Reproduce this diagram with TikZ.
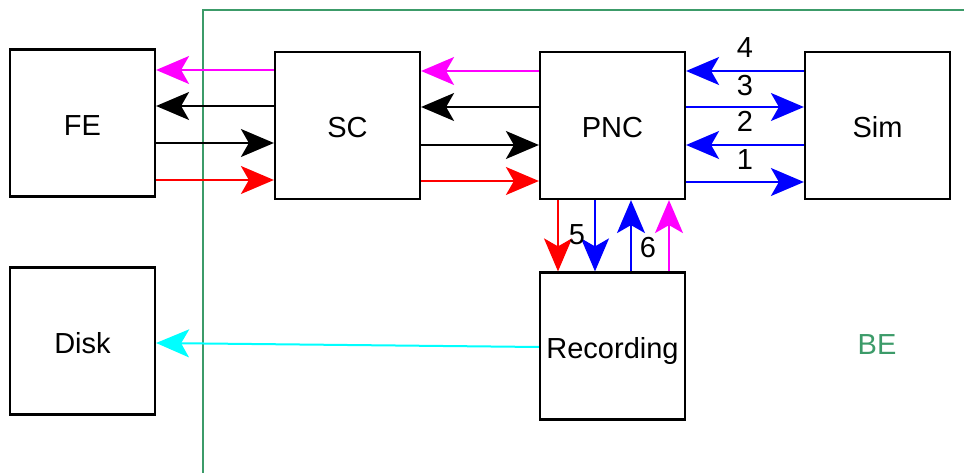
\documentclass[tikz,border=0pt]{standalone}
\usepackage{fontspec}
\setmainfont{Liberation Sans}
\usetikzlibrary{arrows.meta}
\definecolor{begreen}{RGB}{60,155,105}
\definecolor{mag}{RGB}{255,0,255}
\definecolor{cyn}{RGB}{0,255,255}
\tikzset{
  blk/.style={draw=black, line width=2.2pt, fill=white, minimum width=145pt, minimum height=147pt, inner sep=0pt, text height=25pt, text depth=0pt, font=\fontsize{29}{33}\selectfont},
  conn/.style={line width=2pt, -{Stealth[length=33pt, width=28pt, inset=8pt]}},
  lbl/.style={font=\fontsize{29}{33}\selectfont, inner sep=0pt}
}
\begin{document}
\begin{tikzpicture}[x=1pt,y=-1pt]
\useasboundingbox (0,0) rectangle (964,473);
\draw[begreen, line width=2.2pt] (203,473) -- (203,10) -- (966,10);
\node[blk] (FE) at (82.5,123) {FE};
\node[blk] (Disk) at (82.5,341) {Disk};
\node[blk] (SC) at (347.5,125.5) {SC};
\node[blk] (PNC) at (612.5,125.5) {PNC};
\node[blk] (Sim) at (877.5,125.5) {Sim};
\node[blk] (Rec) at (612.5,346) {Recording};
\node[lbl, text=begreen] (BE) at (877,345) {BE};
% SC <-> FE
\draw[conn, mag] (SC.west |- 0,70) -- (FE.east |- 0,70);
\draw[conn, black] (SC.west |- 0,106) -- (FE.east |- 0,106);
\draw[conn, black] (FE.east |- 0,143) -- (SC.west |- 0,143);
\draw[conn, red] (FE.east |- 0,180) -- (SC.west |- 0,180);
% PNC <-> SC
\draw[conn, mag] (PNC.west |- 0,71) -- (SC.east |- 0,71);
\draw[conn, black] (PNC.west |- 0,107) -- (SC.east |- 0,107);
\draw[conn, black] (SC.east |- 0,145) -- (PNC.west |- 0,145);
\draw[conn, red] (SC.east |- 0,181) -- (PNC.west |- 0,181);
% PNC <-> Sim
\draw[conn, blue] (Sim.west |- 0,71) -- (PNC.east |- 0,71);
\draw[conn, blue] (PNC.east |- 0,107) -- (Sim.west |- 0,107);
\draw[conn, blue] (Sim.west |- 0,145) -- (PNC.east |- 0,145);
\draw[conn, blue] (PNC.east |- 0,182) -- (Sim.west |- 0,182);
\node[lbl] (n4) at (745,48) {4};
\node[lbl] (n3) at (745,86) {3};
\node[lbl] (n2) at (745,121) {2};
\node[lbl] (n1) at (745,160) {1};
% PNC <-> Recording
\draw[conn, red] (PNC.south -| 558,0) -- (Rec.north -| 558,0);
\draw[conn, blue] (PNC.south -| 595,0) -- (Rec.north -| 595,0);
\draw[conn, blue] (Rec.north -| 631,0) -- (PNC.south -| 631,0);
\draw[conn, mag] (Rec.north -| 669,0) -- (PNC.south -| 669,0);
\node[lbl] (n5) at (577,235) {5};
\node[lbl] (n6) at (648,248) {6};
% Recording -> Disk
\draw[conn, cyn] (Rec.west |- 0,347) -- (Disk.east |- 0,343);
\end{tikzpicture}
\end{document}
